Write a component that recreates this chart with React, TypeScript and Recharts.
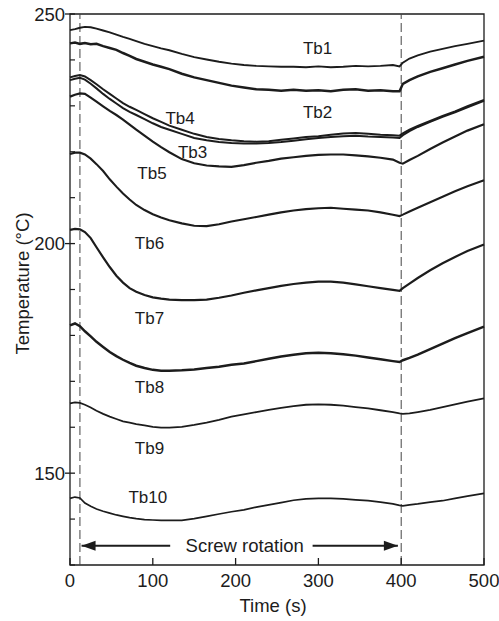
import React from 'react';
import { LineChart, Line, XAxis, YAxis, ReferenceLine, ReferenceArea, ReferenceDot } from 'recharts';

// Time (s)
const times = [0, 6, 12, 18, 25, 32, 40, 48, 56, 64, 72, 80, 90, 100, 110, 120, 135, 150, 165, 180, 195, 210, 225, 240, 255, 270, 285, 300, 315, 330, 345, 360, 375, 390, 398, 402, 410, 420, 435, 450, 465, 480, 500];

// Temperatures (°C)
const tb1 = [246.5, 246.7, 247.0, 247.2, 247.1, 246.8, 246.4, 246.0, 245.5, 245.0, 244.6, 244.1, 243.5, 243.0, 242.5, 242.1, 241.3, 240.6, 240.1, 239.6, 239.2, 238.9, 238.7, 238.6, 238.5, 238.5, 238.4, 238.6, 238.4, 238.5, 238.7, 238.6, 238.7, 238.9, 238.6, 239.4, 240.3, 241.0, 241.8, 242.4, 243.0, 243.5, 244.2];
const tb2 = [243.6, 243.8, 243.5, 243.7, 243.4, 243.5, 243.0, 242.6, 242.2, 241.5, 240.9, 240.2, 239.6, 239.0, 238.5, 238.0, 237.0, 236.2, 235.6, 235.0, 234.4, 234.0, 233.6, 233.5, 233.3, 233.5, 233.3, 233.4, 233.2, 233.5, 233.6, 233.3, 233.4, 233.2, 233.2, 234.8, 235.6, 236.4, 237.4, 238.2, 239.0, 239.8, 240.7];
const tb3 = [235.6, 235.9, 236.1, 235.7, 234.8, 233.8, 232.6, 231.5, 230.5, 229.5, 228.7, 228.0, 227.1, 226.2, 225.4, 224.8, 223.9, 223.0, 222.5, 222.1, 221.9, 221.8, 221.8, 221.9, 222.1, 222.4, 222.7, 223.0, 223.2, 223.4, 223.5, 223.3, 223.2, 223.1, 223.0, 223.6, 224.5, 225.4, 226.5, 227.6, 228.6, 229.7, 231.1];
const tb4 = [236.2, 236.5, 236.7, 236.4, 235.6, 234.7, 233.6, 232.6, 231.6, 230.6, 229.8, 229.1, 228.2, 227.3, 226.5, 225.7, 224.8, 223.9, 223.2, 222.8, 222.5, 222.3, 222.2, 222.3, 222.6, 222.9, 223.2, 223.4, 223.7, 224.0, 224.1, 223.9, 223.7, 223.6, 223.5, 224.0, 224.8, 225.6, 226.7, 227.8, 228.8, 229.9, 231.3];
const tb5 = [232.0, 232.4, 232.7, 232.6, 231.8, 230.9, 229.9, 228.9, 228.0, 227.0, 225.9, 224.8, 223.5, 222.2, 221.0, 219.9, 218.4, 217.5, 217.0, 216.8, 216.7, 217.1, 217.6, 218.0, 218.5, 218.8, 219.1, 219.3, 219.4, 219.4, 219.2, 219.0, 218.7, 218.3, 217.6, 217.4, 218.2, 219.1, 220.6, 222.0, 223.3, 224.6, 226.0];
const tb6 = [219.5, 219.8, 219.8, 219.4, 218.5, 217.3, 215.8, 214.0, 212.4, 210.9, 209.6, 208.4, 207.3, 206.4, 205.7, 205.1, 204.4, 203.9, 203.8, 204.2, 204.8, 205.3, 205.8, 206.3, 206.8, 207.2, 207.5, 207.7, 207.8, 207.6, 207.4, 207.2, 206.8, 206.3, 206.0, 206.3, 207.0, 207.8, 209.0, 210.2, 211.4, 212.5, 213.8];
const tb7 = [203.0, 203.2, 203.1, 202.5, 201.2, 199.2, 197.0, 194.9, 193.0, 191.5, 190.3, 189.5, 188.8, 188.3, 188.0, 187.8, 187.7, 187.7, 187.8, 188.2, 188.7, 189.3, 189.8, 190.3, 190.8, 191.2, 191.5, 191.7, 191.7, 191.5, 191.1, 190.7, 190.3, 189.9, 189.7, 190.3, 191.3, 192.5, 194.2, 195.7, 197.1, 198.4, 199.8];
const tb8 = [182.2, 182.6, 182.0, 180.9, 179.8, 178.6, 177.5, 176.4, 175.5, 174.7, 174.0, 173.4, 172.9, 172.5, 172.3, 172.3, 172.4, 172.6, 172.9, 173.2, 173.6, 173.9, 174.4, 174.9, 175.4, 175.8, 176.1, 176.2, 176.1, 175.9, 175.6, 175.2, 174.8, 174.4, 174.2, 174.6, 175.1, 175.8, 177.0, 178.2, 179.4, 180.5, 181.9];
const tb9 = [165.2, 165.4, 165.3, 164.9, 164.3, 163.6, 162.9, 162.3, 161.8, 161.3, 161.0, 160.7, 160.4, 160.1, 159.9, 159.9, 160.1, 160.5, 161.0, 161.6, 162.3, 162.8, 163.3, 163.8, 164.2, 164.6, 164.9, 165.0, 164.9, 164.7, 164.4, 164.1, 163.7, 163.3, 163.0, 162.9, 163.0, 163.3, 163.8, 164.4, 165.0, 165.6, 166.3];
const tb10 = [144.5, 144.8, 144.6, 143.5, 142.8, 142.2, 141.7, 141.3, 140.9, 140.6, 140.3, 140.1, 139.9, 139.8, 139.7, 139.7, 139.7, 140.1, 140.6, 141.1, 141.6, 142.0, 142.6, 143.1, 143.6, 144.1, 144.4, 144.5, 144.5, 144.4, 144.2, 144.0, 143.7, 143.3, 143.0, 142.9, 143.1, 143.3, 143.7, 144.0, 144.5, 145.0, 145.6];

const seriesNames = ['Tb1', 'Tb2', 'Tb3', 'Tb4', 'Tb5', 'Tb6', 'Tb7', 'Tb8', 'Tb9', 'Tb10'];
const seriesValues = [tb1, tb2, tb3, tb4, tb5, tb6, tb7, tb8, tb9, tb10];
const seriesWidths = [1.9, 2.5, 2.0, 2.0, 2.2, 2.1, 2.2, 2.5, 1.8, 1.7];

// Curve label anchors (time, temperature)
const labelNames = ['Tb1', 'Tb2', 'Tb4', 'Tb3', 'Tb5', 'Tb6', 'Tb7', 'Tb8', 'Tb9', 'Tb10'];
const labelTimes = [299, 299, 133, 148, 99, 96, 96, 96, 96, 94];
const labelTemps = [242.6, 228.7, 227.4, 220.0, 215.4, 200.2, 183.8, 168.8, 155.5, 144.9];

const xTicks = [0, 100, 200, 300, 400, 500];
const yTicks = [130, 140, 150, 160, 170, 180, 190, 200, 210, 220, 230, 240, 250];
const yLabelled = [150, 200, 250];

const rotationStart = 12;
const rotationEnd = 400;
const arrowY = 134.2;
const arrowLeftTip = 14;
const arrowRightTip = 396;
const arrowGapLeft = 121;
const arrowGapRight = 293;
const arrowTextX = 211;
const arrowText = 'Screw rotation';

const rows = times.map((t, i) => {
  const r: Record<string, number> = { t };
  seriesNames.forEach((n, k) => { r[n] = seriesValues[k][i]; });
  return r;
});

const FONT = '"Liberation Sans", Arial, Helvetica, sans-serif';
const INK = '#1c1c1c';

function YTick(props: any) {
  const { x, y, payload } = props;
  const v = payload.value;
  const major = yLabelled.includes(v);
  return (
    <g>
      {major ? (
        <line x1={x - 5} x2={x + 5} y1={y} y2={y} stroke={INK} strokeWidth={1.3} />
      ) : (
        <line x1={x} x2={x + 5} y1={y} y2={y} stroke={INK} strokeWidth={1.2} />
      )}
      {major && (
        <text x={x - 5} y={y} dy={6.5} textAnchor="end" fontSize={18.5} fontFamily={FONT} fill={INK}>
          {v}
        </text>
      )}
    </g>
  );
}

function XTick(props: any) {
  const { x, y, payload } = props;
  return (
    <g>
      <line x1={x} x2={x} y1={y} y2={y - 7} stroke={INK} strokeWidth={1.3} />
      <text x={x} y={y + 22} textAnchor="middle" fontSize={18.5} fontFamily={FONT} fill={INK}>
        {payload.value}
      </text>
    </g>
  );
}

export default function App() {
  return (
    <div style={{ position: 'absolute', left: 0, top: 0, background: '#fff' }}>
      <LineChart width={499} height={621} data={rows} margin={{ top: 14, right: 15, bottom: 0, left: 0 }}>
        <XAxis
          dataKey="t"
          type="number"
          domain={[0, 500]}
          ticks={xTicks}
          tickSize={0}
          tickMargin={0}
          axisLine={false}
          tickLine={false}
          height={56}
          tick={(p: any) => <XTick {...p} />}
          label={{ value: 'Time (s)', position: 'insideBottom', offset: 9, dx: -4, fontSize: 18.5, fontFamily: FONT, fill: INK }}
        />
        <YAxis
          type="number"
          domain={[130, 250]}
          ticks={yTicks}
          tickSize={0}
          tickMargin={0}
          axisLine={false}
          tickLine={false}
          width={70}
          interval={0}
          tick={(p: any) => <YTick {...p} />}
          label={{ value: 'Temperature (°C)', angle: -90, position: 'center', dx: -13, dy: -6, fontSize: 18.5, fontFamily: FONT, fill: INK }}
        />
        <ReferenceArea x1={0} x2={500} y1={130} y2={250} fill="none" stroke={INK} strokeWidth={1.3} />
        <ReferenceLine x={rotationStart} stroke="#444" strokeWidth={1} strokeDasharray="9 4" />
        <ReferenceLine x={rotationEnd} stroke="#444" strokeWidth={1} strokeDasharray="9 4" />
        <ReferenceLine segment={[{ x: arrowLeftTip, y: arrowY }, { x: arrowGapLeft, y: arrowY }]} stroke={INK} strokeWidth={2} />
        <ReferenceLine segment={[{ x: arrowGapRight, y: arrowY }, { x: arrowRightTip, y: arrowY }]} stroke={INK} strokeWidth={2} />
        <ReferenceDot
          x={arrowLeftTip}
          y={arrowY}
          r={1}
          shape={(p: any) => (
            <polygon points={`${p.cx},${p.cy} ${p.cx + 14},${p.cy - 5} ${p.cx + 14},${p.cy + 5}`} fill={INK} />
          )}
        />
        <ReferenceDot
          x={arrowRightTip}
          y={arrowY}
          r={1}
          shape={(p: any) => (
            <polygon points={`${p.cx},${p.cy} ${p.cx - 14},${p.cy - 5} ${p.cx - 14},${p.cy + 5}`} fill={INK} />
          )}
        />
        <ReferenceDot
          x={arrowTextX}
          y={arrowY}
          r={1}
          shape={(p: any) => (
            <text x={p.cx} y={p.cy} dy={6.5} textAnchor="middle" fontSize={18.5} fontFamily={FONT} fill={INK}>
              {arrowText}
            </text>
          )}
        />
        {seriesNames.map((n, k) => (
          <Line
            key={n}
            dataKey={n}
            type="linear"
            stroke={INK}
            strokeWidth={seriesWidths[k]}
            dot={false}
            activeDot={false}
            isAnimationActive={false}
          />
        ))}
        {labelNames.map((n, i) => (
          <ReferenceDot
            key={'lbl' + n}
            x={labelTimes[i]}
            y={labelTemps[i]}
            r={1}
            shape={(p: any) => (
              <text x={p.cx} y={p.cy} dy={6} textAnchor="middle" fontSize={17} fontFamily={FONT} fill={INK}>
                {n}
              </text>
            )}
          />
        ))}
      </LineChart>
    </div>
  );
}
